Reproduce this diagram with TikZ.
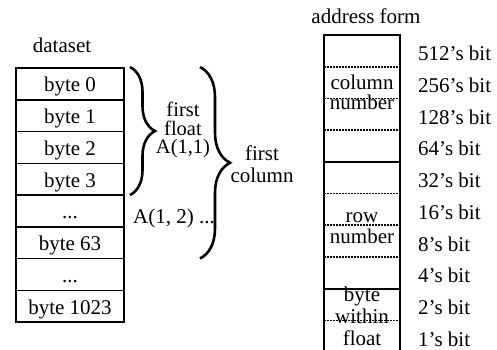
\documentclass[tikz,border=0pt]{standalone}
\usepackage{fontspec}
\setmainfont{Liberation Serif}
\usetikzlibrary{positioning,calc,decorations.pathreplacing}

\begin{document}
\begin{tikzpicture}[
  x=1pt, y=-1pt,
  node distance = 0pt,
  txt/.style     = {font=\fontsize{21}{20}\selectfont, inner sep=0pt,
                    align=center},
  cell/.style    = {txt, draw, line width=1.5pt, outer sep=0pt,
                    minimum width=108pt, minimum height=31.75pt,
                    text height=16pt, text depth=0pt},
  bitcell/.style = {minimum width=76pt, minimum height=31.7pt,
                    inner sep=0pt, outer sep=0pt},
  bitlabel/.style = {txt, text height=20pt, text depth=0pt},
  frame/.style   = {line width=2.6pt},
  solidsep/.style = {line width=2pt},
  dotsep/.style  = {line width=1.6pt, dash pattern=on 1.6pt off 1.4pt},
  curly/.style   = {decorate, line width=2.6pt,
                    decoration={brace, amplitude=#1}}
]
  \useasboundingbox (0,0) rectangle (497,349);

  % Left: the dataset, byte by byte
  \node[txt, anchor=base] (dset) at (62,52) {dataset};
  \node[cell] (b0) at (70,83.9) {byte 0};
  \node[cell, below=of b0] (b1) {byte 1};
  \node[cell, below=of b1] (b2) {byte 2};
  \node[cell, below=of b2] (b3) {byte 3};
  \node[cell, below=of b3] (b4) {...};
  \node[cell, below=of b4] (b5) {byte 63};
  \node[cell, below=of b5] (b6) {...};
  \node[cell, below=of b6] (b7) {byte 1023};
  \draw[frame] (b0.north west) rectangle (b7.south east);

  % Braces: first float, first column
  \draw[curly=25] ($(b0.north east)+(6,-1)$) -- ($(b3.south east)+(6,0)$);
  \node[txt, font=\fontsize{20.5}{18.5}\selectfont] (flt) at (183,130)
       {first\\float\\A(1,1)};
  \node[txt, anchor=base west] (a12) at (133,223) {A(1, 2) ...};
  \draw[curly=30] ($(b0.north east)+(76,-1)$) -- ($(b5.south east)+(76,0)$);
  \node[txt, font=\fontsize{21}{21.5}\selectfont] (col) at (262,164)
       {first\\column};

  % Right: the address form, one cell per bit
  \node[txt, anchor=base] (aform) at (366,23) {address form};
  \node[bitcell] (bit9) at (362,50.85) {};
  \node[bitcell, below=of bit9] (bit8) {};
  \node[bitcell, below=of bit8] (bit7) {};
  \node[bitcell, below=of bit7] (bit6) {};
  \node[bitcell, below=of bit6] (bit5) {};
  \node[bitcell, below=of bit5] (bit4) {};
  \node[bitcell, below=of bit4] (bit3) {};
  \node[bitcell, below=of bit3] (bit2) {};
  \node[bitcell, below=of bit2] (bit1) {};
  \node[bitcell, below=of bit1] (bit0) {};
  \draw[frame] (bit0.south west) -- (bit9.north west)
               -- (bit9.north east) -- (bit0.south east);
  \draw[solidsep] (bit6.south west) -- (bit6.south east);
  \draw[solidsep] (bit2.south west) -- (bit2.south east);
  \draw[dotsep] (bit9.south west) -- (bit9.south east);
  \draw[dotsep] (bit8.south west) -- (bit8.south east);
  \draw[dotsep] (bit7.south west) -- (bit7.south east);
  \draw[dotsep] (bit5.south west) -- (bit5.south east);
  \draw[dotsep] (bit4.south west) -- (bit4.south east);
  \draw[dotsep] (bit3.south west) -- (bit3.south east);
  \draw[dotsep] (bit1.south west) -- (bit1.south east);

  % Field names
  \node[txt] (colno) at (362,92) {column\\number};
  \node[txt, font=\fontsize{21}{21}\selectfont] (rowno) at (362,228)
       {row\\number};
  \node[txt, font=\fontsize{21}{22}\selectfont] (bwf) at (362,316)
       {byte\\within\\float};

  % Bit weights
  \node[bitlabel, anchor=west, right=18pt of bit9] (w9) {512's bit};
  \node[bitlabel, anchor=west, right=18pt of bit8] (w8) {256's bit};
  \node[bitlabel, anchor=west, right=18pt of bit7] (w7) {128's bit};
  \node[bitlabel, anchor=west, right=18pt of bit6] (w6) {64's bit};
  \node[bitlabel, anchor=west, right=18pt of bit5] (w5) {32's bit};
  \node[bitlabel, anchor=west, right=18pt of bit4] (w4) {16's bit};
  \node[bitlabel, anchor=west, right=18pt of bit3] (w3) {8's bit};
  \node[bitlabel, anchor=west, right=18pt of bit2] (w2) {4's bit};
  \node[bitlabel, anchor=west, right=18pt of bit1] (w1) {2's bit};
  \node[bitlabel, anchor=west, right=18pt of bit0] (w0) {1's bit};
\end{tikzpicture}
\end{document}
